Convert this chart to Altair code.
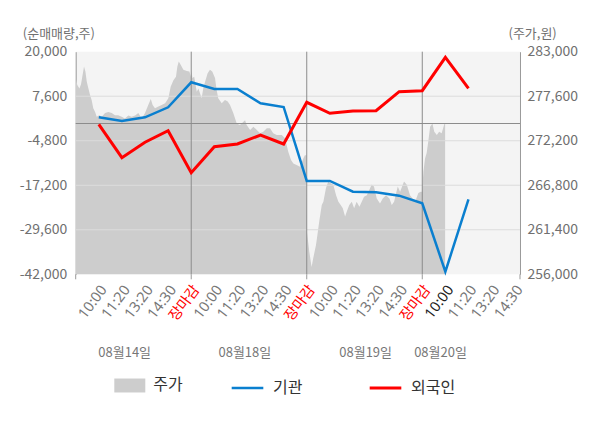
import altair as alt
import pandas as pd

FONT = "Noto Sans CJK KR"
LFONT = "Noto Sans, Noto Sans CJK KR"

# ---- data ----
x_labels = ["10:00", "11:20", "13:20", "14:30", "장마감",
            "10:00", "11:20", "13:20", "14:30", "장마감",
            "10:00", "11:20", "13:20", "14:30", "장마감",
            "10:00", "11:20", "13:20", "14:30"]
X_MAX = 19.23

line_slots = list(range(1, 18))
inst = [1730, 700, 1730, 4520, 11480, 9610, 9610, 5630, 4600,
        -16010, -16010, -18990, -19160, -20100, -22220, -41270, -21110]
foreign = [-220, -9520, -5230, -2000, -13700, -6460, -5710, -3200, -5710,
           5910, 2840, 3490, 3570, 8860, 9140, 18440, 9810]

price_slot = [
    0.00, 0.07, 0.16, 0.23, 0.30, 0.36, 0.42, 0.48, 0.55, 0.62, 0.69, 0.76, 0.84, 0.91,
    1.02, 1.13, 1.27, 1.41, 1.56, 1.70, 1.84, 1.99, 2.13, 2.28, 2.42, 2.57, 2.71, 2.86,
    3.00, 3.14, 3.25, 3.33, 3.43, 3.58, 3.72, 3.87, 4.01, 4.11, 4.23, 4.34, 4.40, 4.46,
    4.55, 4.66, 4.81, 4.92, 4.99,
    5.01, 5.05, 5.13, 5.24, 5.31, 5.38, 5.45, 5.52, 5.60, 5.71, 5.81, 5.91, 6.03, 6.10,
    6.17, 6.32, 6.46, 6.58, 6.68, 6.82, 6.97, 7.11, 7.26, 7.33, 7.40, 7.55, 7.69, 7.84,
    7.98, 8.12, 8.27, 8.41, 8.55, 8.70, 8.92, 9.06, 9.20, 9.32, 9.42, 9.56, 9.71, 9.85,
    9.92, 9.99,
    10.01, 10.11, 10.21, 10.28, 10.40, 10.46, 10.54, 10.65, 10.72, 10.83, 10.93, 11.04,
    11.15, 11.27, 11.37, 11.47, 11.56, 11.66, 11.73, 11.84, 11.95, 12.05, 12.16, 12.28,
    12.38, 12.48, 12.60, 12.74, 12.81, 12.91, 13.03, 13.17, 13.29, 13.43, 13.58, 13.68,
    13.78, 13.87, 13.94, 14.04, 14.21, 14.33, 14.47, 14.69, 14.83, 14.93, 14.99,
    15.05, 15.12, 15.19, 15.26, 15.34, 15.44, 15.52, 15.63, 15.73, 15.84, 15.96, 15.99,
]
price = [
    279800, 278950, 278550, 279050, 280200, 281200, 280600, 279350, 278550, 277750, 277150, 276150, 275700, 275100,
    275300, 275100, 275550, 275700, 275550, 275300, 275300, 275100, 274900, 275250, 275100, 275250, 275550, 274900,
    275550, 276550, 277250, 276550, 276150, 276350, 276550, 276750, 277350, 278750, 279550, 279950, 281200, 281800,
    281400, 280800, 280650, 280600, 279950,
    280800, 279800, 279950, 278150, 278550, 277950, 277350, 278550, 279350, 280400, 280800, 280600, 279800, 278350,
    277350, 276750, 277150, 276950, 276550, 275550, 274300, 274100, 274500, 274700, 274100, 273500, 273900, 273500,
    273100, 273300, 273700, 273700, 273100, 272900, 272900, 272500, 270850, 269850, 269450, 269250, 269050, 270050,
    270450, 270450,
    261150, 258750, 256900, 257950, 259550, 260750, 262400, 264400, 264800, 266450, 267250, 267050,
    266850, 265600, 264800, 264400, 264000, 263000, 263600, 264400, 264800, 264000, 264800, 264200,
    264800, 265400, 265600, 266450, 266900, 266650, 265200, 264600, 265200, 265600, 265200, 264400,
    264800, 265850, 266650, 266000, 267250, 266850, 265600, 264800, 265850, 266000, 266000,
    268450, 270050, 270700, 272100, 273900, 274300, 273300, 272900, 273300, 273100, 274300, 274300,
]

day_labels = ["08월14일", "08월18일", "08월19일", "08월20일"]
day_label_slot = [2.12, 7.32, 12.55, 15.79]

left_ticks = [-42000, -29600, -17200, -4800, 7600, 20000]
right_ticks = [256000, 261400, 266800, 272200, 277600, 283000]
day_breaks = [5, 10, 15]
bottom_ticks = [0, 5, 10, 15, X_MAX]
current_slot = 16

# ---- tables ----
price_df = pd.DataFrame({"slot": price_slot, "price": price, "name": "주가"})
line_df = pd.DataFrame({
    "slot": line_slots * 2,
    "value": inst + foreign,
    "series": ["기관"] * len(inst) + ["외국인"] * len(foreign),
})
grid_df = pd.DataFrame({"v": left_ticks[1:-1]})
zero_df = pd.DataFrame({"v": [0]})
sep_df = pd.DataFrame({"slot": day_breaks})
btick_df = pd.DataFrame({"slot": bottom_ticks})
date_df = pd.DataFrame({"slot": day_label_slot, "label": day_labels})
xlab_df = pd.DataFrame({"slot": list(range(1, len(x_labels) + 1)), "label": x_labels})

W, H = 444.3, 222.6

xs = alt.Scale(domain=[0, X_MAX], nice=False, zero=False)
ls = alt.Scale(domain=[left_ticks[0], left_ticks[-1]], nice=False, zero=False)
rs = alt.Scale(domain=[right_ticks[0], right_ticks[-1]], nice=False, zero=False)

num_expr = "replace(format(datum.value, ',.0f'), '\u2212', '-')"

area = alt.Chart(price_df).mark_area(opacity=1, clip=True).encode(
    x=alt.X("slot:Q", scale=xs, axis=None),
    y=alt.Y("price:Q", scale=rs, axis=alt.Axis(
        orient="right", values=right_ticks, format=",.0f", labelExpr=num_expr,
        ticks=False, tickSize=0,
        grid=False, domain=True, domainColor="#9a9a9a", labelPadding=7,
        labelFont=FONT, labelFontSize=14, labelColor="#707070",
        title="(주가,원)", titleAngle=0, titleX=-12, titleY=-18.4,
        titleAlign="left", titleBaseline="middle", titleFont=FONT,
        titleFontSize=13, titleFontWeight="normal", titleColor="#707070",
    )),
    fill=alt.Fill("name:N", scale=alt.Scale(domain=["주가"], range=["#cdcdcd"]),
                  legend=alt.Legend(
                      orient="none", legendX=38.6, legendY=318.3, title=None,
                      symbolType="M-1,-0.45H1V0.45H-1Z", symbolSize=961,
                      symbolStrokeWidth=0, symbolOpacity=1, labelOffset=8, padding=0,
                      labelFont=FONT, labelFontSize=16, labelColor="#333333")),
)

grid = alt.Chart(grid_df).mark_rule(color="#dcdcdc", strokeWidth=1).encode(
    y=alt.Y("v:Q", scale=ls, axis=None))
zero = alt.Chart(zero_df).mark_rule(color="#8c8c8c", strokeWidth=1).encode(
    y=alt.Y("v:Q", scale=ls, axis=None))
seps = alt.Chart(sep_df).mark_rule(color="#8c8c8c", strokeWidth=1).encode(
    x=alt.X("slot:Q", scale=xs, axis=None))
bticks = alt.Chart(btick_df).mark_rule(color="#9a9a9a", strokeWidth=1).encode(
    x=alt.X("slot:Q", scale=xs, axis=None),
    y=alt.value(H), y2=alt.value(H + 5))

lines = alt.Chart(line_df).mark_line().encode(
    x=alt.X("slot:Q", scale=xs, axis=alt.Axis(
        values=[0], labels=False, ticks=False, tickSize=0, grid=False, domain=True,
        domainColor="#9a9a9a", title=None,
    )),
    y=alt.Y("value:Q", scale=ls, axis=alt.Axis(
        orient="left", values=left_ticks, format=",.0f", labelExpr=num_expr,
        ticks=False, tickSize=0,
        grid=False, domain=True, domainColor="#9a9a9a", labelPadding=9,
        labelFont=FONT, labelFontSize=14, labelColor="#707070",
        title="(순매매량,주)", titleAngle=0, titleX=-53.4, titleY=-18.4,
        titleAlign="left", titleBaseline="middle", titleFont=FONT,
        titleFontSize=13, titleFontWeight="normal", titleColor="#707070",
    )),
    color=alt.Color("series:N", scale=alt.Scale(domain=["기관", "외국인"], range=["#0a7fcf", "#ff0000"]),
                    legend=alt.Legend(
                        orient="none", legendX=154.3, legendY=318.5, title=None,
                        direction="horizontal", symbolType="stroke", symbolSize=1000,
                        symbolStrokeWidth=3, labelOffset=8, columnPadding=60, padding=0,
                        labelFont=FONT, labelFontSize=16, labelColor="#333333")),
    strokeWidth=alt.StrokeWidth("series:N", scale=alt.Scale(domain=["기관", "외국인"], range=[2.5, 3]),
                                legend=None),
)

xlabels = alt.Chart(xlab_df).mark_text(
    font=LFONT, fontSize=14.5, angle=307, align="right", baseline="top"
).encode(
    x=alt.X("slot:Q", scale=xs, axis=None),
    y=alt.value(H + 9),
    text="label:N",
    color={"condition": [
        {"test": "datum.label == '장마감'", "value": "#ff0000"},
        {"test": "datum.slot == %d" % current_slot, "value": "#222222"}],
        "value": "#777777"},
)

dates = alt.Chart(date_df).mark_text(font=FONT, fontSize=13, color="#777777",
                                     baseline="middle", align="center").encode(
    x=alt.X("slot:Q", scale=xs, axis=None),
    y=alt.value(301.3),
    text="label:N",
)

chart = alt.layer(area, grid, zero, seps, bticks, lines, xlabels, dates).resolve_scale(
    y="independent"
).properties(
    width=W, height=H,
    autosize=alt.AutoSizeParams(type="none"),
    padding={"left": 67.7, "top": 43.7, "right": 70, "bottom": 140},
).configure_view(fill="#f4f4f4", stroke=None)

chart.save("out.html", embed_options={"renderer": "svg", "actions": False})
